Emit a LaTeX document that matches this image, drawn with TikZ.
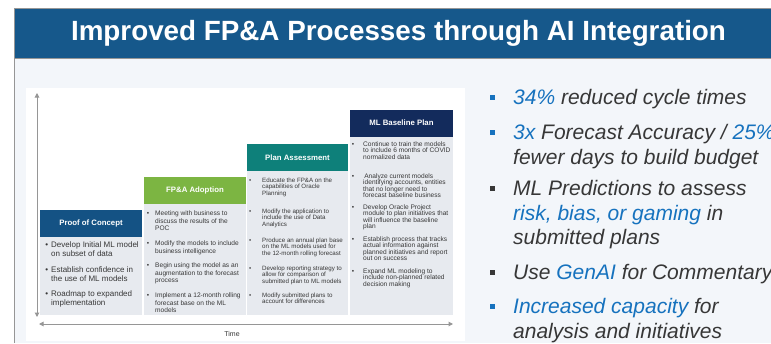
\documentclass[tikz,border=0pt]{standalone}
\usepackage{fontspec}
\setmainfont{Liberation Sans}
\usetikzlibrary{arrows.meta}
\definecolor{titleblue}{RGB}{22,88,139}
\definecolor{panelbg}{RGB}{243,246,250}
\definecolor{framegray}{RGB}{150,150,150}
\definecolor{axisgray}{RGB}{150,150,150}
\definecolor{bodygray}{RGB}{231,234,239}
\definecolor{pocblue}{RGB}{20,82,132}
\definecolor{adoptgreen}{RGB}{124,181,66}
\definecolor{assessteal}{RGB}{14,128,122}
\definecolor{mlnavy}{RGB}{19,43,92}
\definecolor{hiblue}{RGB}{22,114,190}
\definecolor{bodytext}{RGB}{55,55,55}
\newcommand{\bl}[1]{\llap{\textbullet\hspace{#1pt}}}
\tikzset{
  head/.style={fill=#1, text=white, font=\fontsize{7.8}{9}\selectfont\bfseries,
    inner sep=0, minimum width=102pt, minimum height=27pt},
  body/.style={fill=bodygray, inner sep=0, minimum width=102pt, anchor=north},
  item/.style={anchor=north west, inner sep=0, align=left, text=bodytext},
  point/.style={anchor=north west, inner sep=0, align=left, text=bodytext,
    font=\fontsize{21}{24.5}\selectfont\itshape},
  sq/.style={fill=#1, inner sep=0, minimum size=5pt},
  axis/.style={axisgray, line width=1pt, {Triangle[length=4.5pt,width=4.5pt]}-{Triangle[length=4.5pt,width=4.5pt]}}
}
\begin{document}
\begin{tikzpicture}[x=1pt,y=-1pt]
\useasboundingbox (0,0) rectangle (771,343);
% slide frame and title
\fill[panelbg] (14,8) rectangle (771,343);
\fill[titleblue] (14,8) rectangle (771,58);
\draw[framegray, line width=1pt] (771,8) -- (14,8) -- (14,343);
\draw[framegray, line width=0.8pt] (14,58.5) -- (771,58.5);
\node[text=white, font=\fontsize{27.8}{30}\selectfont\bfseries] (title) at (398.5,33) {Improved FP\&A Processes through AI Integration};
% diagram area
\fill[white] (26,88) rectangle (465,341);
\coordinate (vtop) at (37,93);
\coordinate (vbot) at (37,317);
\coordinate (hleft) at (39,324);
\coordinate (hright) at (453,324);
\draw[axis] (vbot) -- (vtop);
\draw[axis] (hleft) -- (hright);
\node[text=bodytext, font=\fontsize{7}{8}\selectfont] (time) at (232,334) {Time};
% stage headers and bodies
\node[head=pocblue] (poc) at (91,223.5) {Proof of Concept};
\node[head=adoptgreen] (adopt) at (195,190.5) {FP\&A Adoption};
\node[head=assessteal, minimum width=101pt] (assess) at (297.5,157.5) {Plan Assessment};
\node[head=mlnavy, minimum width=103pt] (ml) at (401.5,123) {ML Baseline Plan};
\node[body, minimum height=78pt] (pocbody) at (poc.south) {};
\node[body, minimum height=111pt] (adoptbody) at (adopt.south) {};
\node[body, minimum width=101pt, minimum height=144pt] (assessbody) at (assess.south) {};
\node[body, minimum width=103pt, minimum height=178.5pt] (mlbody) at (ml.south) {};
% proof of concept
\begin{scope}[every node/.style={item, font=\fontsize{8}{9.2}\selectfont}]
\node (poc1) at (51,241) {\bl{3}Develop Initial ML model\\on subset of data};
\node (poc2) at (51,266) {\bl{3}Establish confidence in\\the use of ML models};
\node (poc3) at (51,290) {\bl{3}Roadmap to expanded\\implementation};
\end{scope}
% fp&a adoption
\begin{scope}[every node/.style={item, font=\fontsize{6.6}{7.6}\selectfont}]
\node (adopt1) at (155,210.6) {\bl{6}Meeting with business to\\discuss the results of the\\POC};
\node (adopt2) at (155,240.6) {\bl{6}Modify the models to include\\business intelligence};
\node (adopt3) at (155,262.6) {\bl{6}Begin using the model as an\\augmentation to the forecast\\process};
\node (adopt4) at (155,292.6) {\bl{6}Implement a 12-month rolling\\forecast base on the ML\\models};
\end{scope}
% plan assessment
\begin{scope}[every node/.style={item, font=\fontsize{6.2}{6.4}\selectfont}]
\node (assess1) at (262,177.8) {\bl{11}Educate the FP\&A on the\\capabilities of Oracle\\Planning};
\node (assess2) at (262,208.8) {\bl{11}Modify the application to\\include the use of Data\\Analytics};
\node (assess3) at (262,237.8) {\bl{11}Produce an annual plan base\\on the ML models used for\\the 12-month rolling forecast};
\node (assess4) at (262,265.8) {\bl{11}Develop reporting strategy to\\allow for comparison of\\submitted plan to ML models};
\node (assess5) at (262,292.8) {\bl{11}Modify submitted plans to\\account for differences};
\end{scope}
% ml baseline plan
\begin{scope}[every node/.style={item, font=\fontsize{6.6}{6.4}\selectfont}]
\node (ml1) at (363,141.6) {\bl{9}Continue to train the models\\to include 6 months of COVID\\normalized data};
\node (ml2) at (363,173.6) {\bl{9}\,Analyze current models\\identifying accounts, entities\\that no longer need to\\forecast baseline business};
\node (ml3) at (363,204.6) {\bl{9}Develop Oracle Project\\module to plan initiatives that\\will influence the baseline\\plan};
\node (ml4) at (363,236.6) {\bl{9}Establish process that tracks\\actual information against\\planned initiatives and report\\out on success};
\node (ml5) at (363,268.6) {\bl{9}Expand ML modeling to\\include non-planned related\\decision making};
\end{scope}
% results
\node[sq=hiblue] (sq1) at (492,97) {};
\node[sq=hiblue] (sq2) at (492,132) {};
\node[sq=bodytext] (sq3) at (492,188) {};
\node[sq=bodytext] (sq4) at (492,272) {};
\node[sq=hiblue] (sq5) at (492,306) {};
\node[point] (res1) at (513,89.5) {\textcolor{hiblue}{34\%} reduced cycle times};
\node[point] (res2) at (513,124.5) {\textcolor{hiblue}{3x} Forecast Accuracy / \textcolor{hiblue}{25\%}\\fewer days to build budget};
\node[point] (res3) at (513,180.5) {ML Predictions to assess\\\textcolor{hiblue}{risk, bias, or gaming} in\\submitted plans};
\node[point] (res4) at (513,264.5) {Use \textcolor{hiblue}{GenAI} for Commentary};
\node[point] (res5) at (513,298.5) {\textcolor{hiblue}{Increased capacity} for\\analysis and initiatives};
\end{tikzpicture}
\end{document}
